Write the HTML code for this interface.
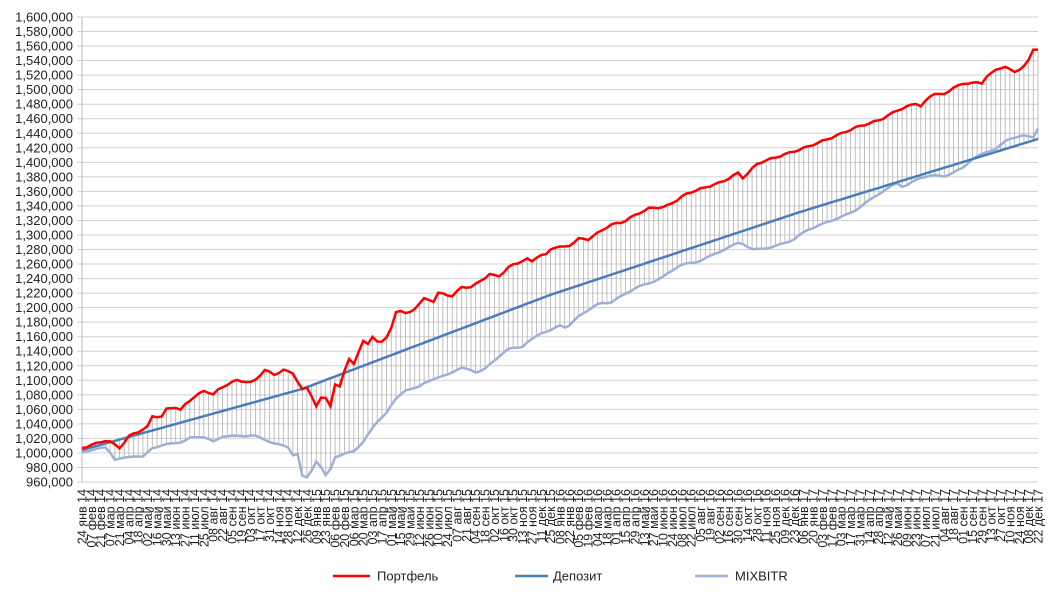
<!DOCTYPE html>
<html><head><meta charset="utf-8"><style>
html,body{margin:0;padding:0;background:#fff;}
svg{display:block;font-family:"Liberation Sans",sans-serif;}
</style></head><body>
<svg id="c" width="1050" height="606" xmlns="http://www.w3.org/2000/svg"></svg>
<script>
const svg=document.getElementById('c');
const L=82,R=1038,T=17,B=482;
let s='';
for(let i=0;i<=32;i++){const y=T+(B-T)*i/32;const v=1600000-20000*i;
 s+=`<line x1="${L-5}" x2="${R}" y1="${y}" y2="${y}" stroke="#d0d0d0" stroke-width="1"/>`;
 s+=`<text x="${L-9}" y="${y+4.5}" font-size="13" text-anchor="end" fill="#222">${v.toLocaleString('en-US')}</text>`;}
s+=`<line x1="${L}" x2="${L}" y1="${T}" y2="${B}" stroke="#bbb"/>`;
function interp(pts,x){for(let i=0;i<pts.length-1;i++){if(x<=pts[i+1][0]){const a=pts[i],b=pts[i+1];return a[1]+(b[1]-a[1])*(x-a[0])/(b[0]-a[0]);}}return pts[pts.length-1][1];}
const red=[[82,448],[107,440],[120,448],[130,435],[147,428],[152,416],[162,417],[167,408],[175,407],[180,411],[187,402],[205,390],[213,395],[220,388],[237,380],[252,383],[265,370],[275,375],[283,370],[293,373],[302,390],[308,387],[317,408],[322,396],[327,398],[331,407],[335,385],[340,387],[348,357],[354,365],[363,340],[368,344],[373,337],[378,342],[385,340],[390,333],[397,308],[407,315],[415,308],[425,298],[433,302],[438,293],[452,296],[462,287],[472,287],[490,274],[498,277],[510,266],[527,259],[533,262],[538,255],[547,255],[552,247],[567,247],[580,238],[587,240],[610,225],[623,222],[637,214],[650,208],[665,207],[677,200],[688,193],[722,182],[738,173],[743,178],[758,163],[783,155],[807,147],[833,137],[857,127],[880,120],[898,110],[917,103],[922,107],[927,99],[935,93],[945,95],[953,87],[973,82],[982,84],[987,75],[997,70],[1005,66],[1015,73],[1028,62],[1033,50],[1038,49]];
const gray=[[82,452],[107,447],[115,460],[133,456],[143,457],[152,448],[173,443],[183,442],[190,438],[195,437],[205,437],[213,442],[223,436],[247,436],[253,435],[273,443],[288,447],[293,455],[298,454],[303,480],[308,477],[317,460],[327,478],[335,457],[347,453],[353,452],[363,442],[377,422],[387,412],[395,400],[405,390],[418,388],[425,382],[438,378],[462,368],[472,370],[477,373],[485,369],[492,362],[510,348],[522,347],[540,333],[550,331],[560,325],[567,328],[580,315],[600,303],[610,303],[637,287],[650,283],[663,277],[680,265],[697,262],[717,253],[740,242],[753,250],[773,247],[793,240],[807,230],[833,220],[853,212],[867,202],[880,193],[897,183],[903,187],[920,178],[933,175],[943,177],[963,168],[973,158],[997,148],[1007,140],[1022,135],[1033,138],[1038,128]];
const blue=[[82,450],[302,389],[550,295],[800,212],[1038,139]];
const N=205;let pr=[],pb=[],pg=[],hl='';
for(let i=0;i<N;i++){const x=L+(R-L)*i/(N-1);
 const r=interp(red,x)+0.8*Math.sin(i*1.7);
 const g=interp(gray,x)+0.5*Math.sin(i*1.3);
 const b=interp(blue,x);
 pr.push(x.toFixed(1)+','+r.toFixed(1));pb.push(x.toFixed(1)+','+b.toFixed(1));pg.push(x.toFixed(1)+','+g.toFixed(1));
 const mn=Math.min(r,g,b),mx=Math.max(r,g,b);
 hl+=`<line x1="${x.toFixed(1)}" x2="${x.toFixed(1)}" y1="${mn.toFixed(1)}" y2="${mx.toFixed(1)}" stroke="#b0b0b0" stroke-width="0.8"/>`;}
s+=hl;
s+=`<polyline points="${pg.join(' ')}" fill="none" stroke="#9db0d6" stroke-width="2.5"/>`;
s+=`<polyline points="${pb.join(' ')}" fill="none" stroke="#4a7ebb" stroke-width="2.5"/>`;
s+=`<polyline points="${pr.join(' ')}" fill="none" stroke="#ff0000" stroke-width="2.5"/>`;
const mon=['янв','фев','мар','апр','май','июн','июл','авг','сен','окт','ноя','дек'];
let d=new Date(Date.UTC(2014,0,24));
for(let i=0;i<103;i++){const x=L+(R-L)*i/102;
 const t=String(d.getUTCDate()).padStart(2,'0')+' '+mon[d.getUTCMonth()]+' '+String(d.getUTCFullYear()).slice(2);
 s+=`<text transform="translate(${(x+4.5).toFixed(1)},489) rotate(-90)" font-size="12.5" text-anchor="end" fill="#222">${t}</text>`;
 d=new Date(d.getTime()+14*86400000);}
s+=`<line x1="333" x2="370" y1="576" y2="576" stroke="#ff0000" stroke-width="2.5"/><text x="377" y="580.5" font-size="13" fill="#222">Портфель</text>`;
s+=`<line x1="515" x2="548" y1="576" y2="576" stroke="#4a7ebb" stroke-width="2.5"/><text x="553" y="580.5" font-size="13" fill="#222">Депозит</text>`;
s+=`<line x1="695" x2="728" y1="576" y2="576" stroke="#9db0d6" stroke-width="2.5"/><text x="735" y="580.5" font-size="13" fill="#222">MIXBITR</text>`;
svg.innerHTML=s;
</script>
</body></html>
